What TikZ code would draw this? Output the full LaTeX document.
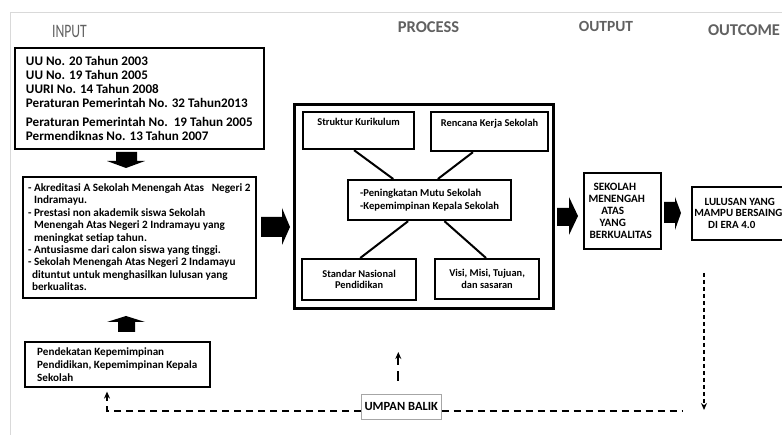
\documentclass[tikz,border=0pt]{standalone}
\usepackage{fontspec}
\usepackage{graphicx}
\setmainfont{Carlito}
\usetikzlibrary{arrows.meta,calc}
\begin{document}
\begin{tikzpicture}[x=1pt,y=-1pt,
  box/.style={draw=black, line width=1.6pt, inner sep=0pt, anchor=north west},
  pbox/.style={draw=black, line width=2.2pt, inner sep=0pt, anchor=north west, font=\bfseries\fontsize{10.4}{11.5}\selectfont, align=center},
  hdr/.style={text=black!62, font=\bfseries\fontsize{16}{18}\selectfont},
  link/.style={line width=2pt},
  blockarrow/.style={fill=black},
  fb/.style={line width=2pt, dash pattern=on 7pt off 5pt},
  fbv/.style={line width=1.8pt, dash pattern=on 4pt off 3pt},
  tip/.style={-{Stealth[length=7pt,width=6pt]}}
]
\useasboundingbox (0,0) rectangle (782,435);
\fill[white] (0,0) rectangle (782,435);
\draw[black!15, line width=0.8pt] (10,435) -- (10,12) -- (782,12);

% headers
\node[hdr, font=\fontsize{15}{17}\selectfont] (hin) at (69.5,31) {\scalebox{0.72}[1]{\fontsize{19}{21}\selectfont INPUT}};
\node[hdr, font=\bfseries\fontsize{16.5}{18}\selectfont] (hpr) at (428.5,27.5) {PROCESS};
\node[hdr, font=\bfseries\fontsize{15.5}{17}\selectfont] (hou) at (606,26) {OUTPUT};
\node[hdr, font=\bfseries\fontsize{16.5}{18}\selectfont] (hoc) at (744,30.5) {OUTCOME};

% input boxes
\node[box, minimum width=249pt, minimum height=101pt, align=left,
      font=\bfseries\fontsize{13.1}{14}\selectfont] (laws) at (14,47)
 {UU No. 20 Tahun 2003\\
  UU No. 19 Tahun 2005\\
  UURI No. 14 Tahun 2008\\
  Peraturan Pemerintah No. 32 Tahun2013\\[5pt]
  Peraturan Pemerintah No.\ \ 19 Tahun 2005\\
  Permendiknas No. 13 Tahun 2007};

\node[box, minimum width=233pt, minimum height=121pt, align=left,
      font=\bfseries\fontsize{11.2}{12.4}\selectfont] (cond) at (22,176)
 {- Akreditasi A Sekolah Menengah Atas \ \ Negeri 2\\
  \hspace*{6pt}Indramayu.\\
  - Prestasi non akademik siswa Sekolah\\
  \hspace*{6pt}Menengah Atas Negeri 2 Indramayu yang\\
  \hspace*{6pt}meningkat setiap tahun.\\
  - Antusiasme dari calon siswa yang tinggi.\\
  - Sekolah Menengah Atas Negeri 2 Indamayu\\
  \hspace*{4pt}dituntut untuk menghasilkan lulusan yang\\
  \hspace*{4pt}berkualitas.};

\node[box, minimum width=185pt, minimum height=45pt, align=left,
      font=\bfseries\fontsize{11.1}{13}\selectfont] (appr) at (24,341)
 {Pendekatan Kepemimpinan\\
  Pendidikan, Kepemimpinan Kepala\\
  Sekolah};

% process
\node[draw=black, line width=2.6pt, anchor=north west, minimum width=259pt, minimum height=204pt, inner sep=0pt] (proc) at (293,103) {};
\node[pbox, minimum width=111pt, minimum height=37pt] (struk) at (302,111) {Struktur Kurikulum\\[6pt]};
\node[pbox, minimum width=117pt, minimum height=39pt] (renc) at (430,111) {Rencana Kerja Sekolah\\[6pt]};
\node[pbox, minimum width=163pt, minimum height=40pt, align=left, font=\bfseries\fontsize{10.6}{13}\selectfont] (mutu) at (347,179)
 {-Peningkatan Mutu Sekolah\\-Kepemimpinan Kepala Sekolah};
\node[pbox, minimum width=114pt, minimum height=41pt] (snp) at (301,258) {Standar Nasional\\Pendidikan};
\node[pbox, minimum width=104pt, minimum height=40pt] (visi) at (434,258) {Visi, Misi, Tujuan,\\dan sasaran};

\draw[link] ($(struk.south west)!0.46!(struk.south east)$) -- ($(mutu.north west)!0.28!(mutu.north east)$);
\draw[link] ($(renc.south west)!0.36!(renc.south east)$) -- ($(mutu.north west)!0.55!(mutu.north east)$);
\draw[link] ($(mutu.south west)!0.37!(mutu.south east)$) -- ($(snp.north west)!0.51!(snp.north east)$);
\draw[link] ($(mutu.south west)!0.59!(mutu.south east)$) -- ($(visi.north west)!0.49!(visi.north east)$);

% output & outcome
\node[box, minimum width=77pt, minimum height=76pt, align=center,
      font=\bfseries\fontsize{11.2}{12.2}\selectfont] (outp) at (583,172)
 {\hspace*{-15pt}SEKOLAH\\\hspace*{-11pt}MENENGAH\\\hspace*{-19pt}ATAS\\\hspace*{-19pt}YANG\\\hspace*{-3pt}BERKUALITAS};
\node[box, minimum width=96pt, minimum height=53pt, align=center,
      font=\bfseries\fontsize{11}{11.6}\selectfont] (outc) at (691,186)
 {LULUSAN YANG\\\hspace*{-3pt}MAMPU BERSAING\\\hspace*{-16pt}DI ERA 4.0};

% block arrows
\fill[blockarrow] (116,152) -- (137,152) -- (137,161) -- (145,161) -- (126,168) -- (107,161) -- (116,161) -- cycle;
\fill[blockarrow] (126,316) -- (145,322) -- (135,322) -- (135,332) -- (118,332) -- (118,322) -- (107,322) -- cycle;
\fill[blockarrow] (261,217) -- (282,217) -- (282,208) -- (290,227) -- (282,245) -- (282,237) -- (261,237) -- cycle;
\fill[blockarrow] (557,208) -- (569,208) -- (569,197) -- (578,216) -- (569,235) -- (569,226) -- (557,226) -- cycle;
\fill[blockarrow] (664,202) -- (675,202) -- (675,197) -- (681,213) -- (675,230) -- (675,223) -- (664,223) -- cycle;

% feedback
\node[draw=black!35, line width=0.6pt, anchor=north west, minimum width=80pt, minimum height=25pt, inner sep=0pt,
      font=\bfseries\fontsize{12.5}{13}\selectfont] (umpan) at (361,394) {UMPAN BALIK};
\coordinate (fbL) at (107,411);
\coordinate (fbR) at (683,411);
\coordinate (fbTop) at (704,273);
\coordinate (fbBot) at (704,410);
\draw[fb, tip] (umpan.west |- fbL) -- (fbL) -- ($(appr.south -| fbL)+(0,4)$);
\draw[fb] (umpan.east |- fbR) -- (fbR);
\draw[fbv, tip] (fbTop) -- (fbBot);
\draw[line width=2pt, dash pattern=on 10pt off 6pt, tip] ($(umpan.north)+(-3,-13)$) -- ($(umpan.north)+(-3,-42)$);
\end{tikzpicture}
\end{document}
